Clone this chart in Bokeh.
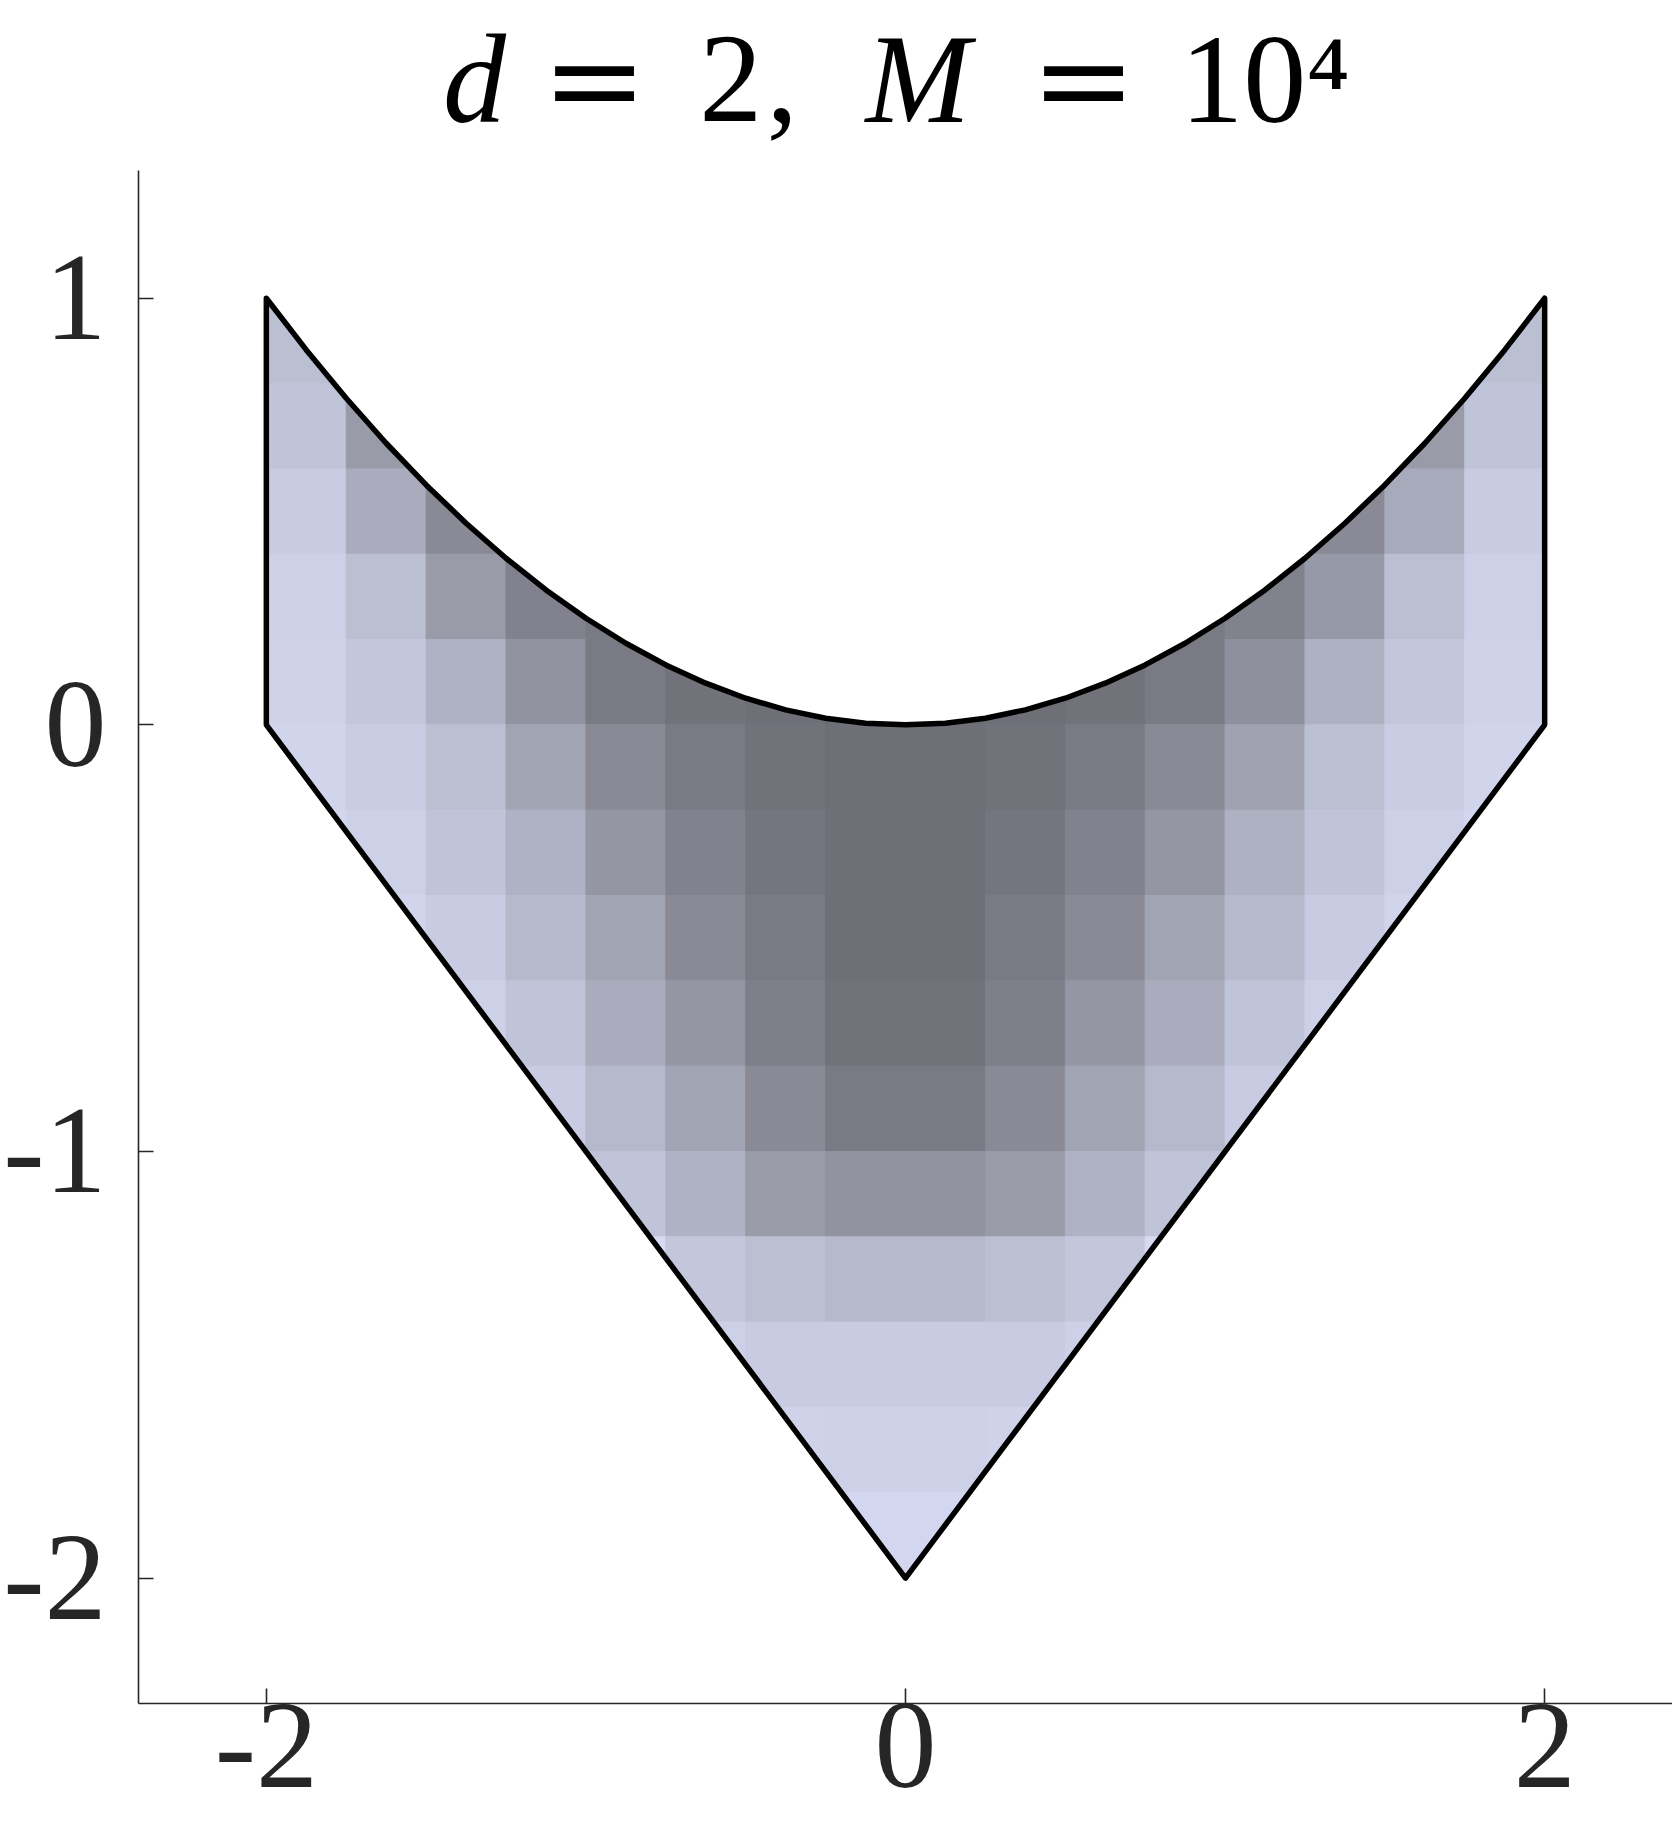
import math
from bokeh.plotting import figure
from bokeh.models import Label, FixedTicker
from bokeh.embed import file_html
from bokeh.resources import INLINE

# ---------------- data ----------------
x_ticks = [-2, 0, 2]
y_ticks = [-2, -1, 0, 1]
x_tick_labels = {-2: "-2", 0: "0", 2: "2"}
y_tick_labels = {-2: "-2", -1: "-1", 0: "0", 1: "1"}

# upper boundary (curved edge) of the region
upper_x = [-2.0, -1.875, -1.75, -1.625, -1.5, -1.375, -1.25, -1.125, -1.0,
           -0.875, -0.75, -0.625, -0.5, -0.375, -0.25, -0.125, 0.0,
           0.125, 0.25, 0.375, 0.5, 0.625, 0.75, 0.875, 1.0,
           1.125, 1.25, 1.375, 1.5, 1.625, 1.75, 1.875, 2.0]
upper_y = [1.0, 0.8789, 0.7656, 0.6602, 0.5625, 0.4727, 0.3906, 0.3164, 0.25,
           0.1914, 0.1406, 0.0977, 0.0625, 0.0352, 0.0156, 0.0039, 0.0,
           0.0039, 0.0156, 0.0352, 0.0625, 0.0977, 0.1406, 0.1914, 0.25,
           0.3164, 0.3906, 0.4727, 0.5625, 0.6602, 0.7656, 0.8789, 1.0]
# lower boundary (right side down to the tip and back up the left side)
lower_x = [2.0, 2.0, 0.0, -2.0]
lower_y = [1.0, 0.0, -2.0, 0.0]

# estimated number of sample points per cell (read from the picture's density)
cell_x = [-1.875, -1.625, -1.375, -1.125, -0.875, -0.625, -0.375, -0.125,
          0.125, 0.375, 0.625, 0.875, 1.125, 1.375, 1.625, 1.875]
cell_y = [0.9, 0.7, 0.5, 0.3, 0.1, -0.1, -0.3, -0.5, -0.7, -0.9,
          -1.1, -1.3, -1.5, -1.7, -1.9]
counts = [
    [39, 0, 0, 0, 0, 0, 0, 0, 0, 0, 0, 0, 0, 0, 0, 39],
    [31, 105, 0, 0, 0, 0, 0, 0, 0, 0, 0, 0, 0, 0, 105, 31],
    [20, 70, 145, 0, 0, 0, 0, 0, 0, 0, 0, 0, 0, 145, 75, 20],
    [12, 39, 105, 168, 194, 0, 0, 0, 0, 0, 0, 194, 170, 110, 39, 12],
    [10, 26, 60, 124, 194, 223, 235, 242, 242, 235, 223, 194, 130, 62, 26, 10],
    [7, 18, 39, 87, 145, 194, 223, 235, 235, 223, 194, 145, 90, 39, 18, 7],
    [5, 12, 31, 60, 116, 168, 211, 235, 235, 211, 168, 116, 62, 31, 12, 5],
    [0, 7, 20, 48, 87, 145, 194, 235, 235, 194, 145, 87, 48, 20, 7, 0],
    [0, 0, 12, 31, 70, 116, 178, 223, 223, 178, 116, 70, 31, 12, 0, 0],
    [0, 0, 0, 20, 48, 87, 145, 194, 194, 145, 87, 48, 20, 0, 0, 0],
    [0, 0, 0, 0, 31, 60, 105, 124, 124, 105, 60, 31, 0, 0, 0, 0],
    [0, 0, 0, 0, 0, 26, 39, 48, 48, 39, 26, 0, 0, 0, 0, 0],
    [0, 0, 0, 0, 0, 12, 20, 20, 20, 20, 12, 0, 0, 0, 0, 0],
    [0, 0, 0, 0, 0, 0, 10, 12, 12, 10, 0, 0, 0, 0, 0, 0],
    [0, 0, 0, 0, 0, 0, 0, 5, 5, 0, 0, 0, 0, 0, 0, 0],
]

# ---------------- styling ----------------
FILL = (214, 218, 242)
DOT = (64, 64, 64)
AXIS_COLOR = "#262626"
FONT = "Liberation Serif"
TICK_FONT_SIZE = "124px"
CELL_W, CELL_H = 0.25, 0.2
PX_X, PX_Y = 320.0, 426.67          # pixels per data unit
DOT_AREA = math.pi * 3.3 ** 2        # marker area in px^2
CELL_AREA = CELL_W * PX_X * CELL_H * PX_Y

p = figure(width=1672, height=1847, x_range=(-2.4, 2.4), y_range=(-2.294, 1.698),
           output_backend="svg", toolbar_location=None,
           min_border_left=136, min_border_right=0, min_border_top=0,
           min_border_bottom=144)
p.grid.visible = False
p.outline_line_color = None
p.background_fill_color = "white"
p.border_fill_color = "white"

# region fill
p.patch(upper_x + lower_x, upper_y + lower_y, fill_color="#%02x%02x%02x" % FILL,
        line_color=None)

# density of the sample points per cell
lefts, rights, tops, bottoms, colors = [], [], [], [], []
for j, cy in enumerate(cell_y):
    for i, cx in enumerate(cell_x):
        n = counts[j][i]
        cov = 1.0 - math.exp(-n * DOT_AREA / CELL_AREA)
        rgb = tuple(int(round(cov * d + (1 - cov) * f)) for d, f in zip(DOT, FILL))
        lefts.append(cx - CELL_W / 2)
        rights.append(cx + CELL_W / 2)
        tops.append(cy + CELL_H / 2)
        bottoms.append(cy - CELL_H / 2)
        colors.append("#%02x%02x%02x" % rgb)
p.quad(left=lefts, right=rights, top=tops, bottom=bottoms, fill_color=colors,
       line_color=colors, line_width=1)

# keep the shading inside the region (white masks outside it)
p.patch(upper_x + [2.05, 2.05, -2.05, -2.05], upper_y + [1.0, 1.06, 1.06, 1.0],
        fill_color="white", line_color=None)
p.patch([-2.06, -2.0, 0.0, 0.0, -2.06], [0.0, 0.0, -2.0, -2.06, -2.06],
        fill_color="white", line_color=None)
p.patch([2.06, 2.0, 0.0, 0.0, 2.06], [0.0, 0.0, -2.0, -2.06, -2.06],
        fill_color="white", line_color=None)

# region outline
p.patch(upper_x + lower_x, upper_y + lower_y, fill_alpha=0, line_color="black",
        line_width=5.5, line_join="round")

# axes
for ax, ticks, labels in ((p.xaxis, x_ticks, x_tick_labels), (p.yaxis, y_ticks, y_tick_labels)):
    ax.ticker = FixedTicker(ticks=ticks)
    ax.major_label_overrides = labels
    ax.axis_line_color = AXIS_COLOR
    ax.axis_line_width = 1.6
    ax.major_tick_line_color = AXIS_COLOR
    ax.major_tick_line_width = 1.6
    ax.major_tick_in = 15
    ax.major_tick_out = 0
    ax.minor_tick_line_color = None
    ax.major_label_text_font = FONT
    ax.major_label_text_font_size = TICK_FONT_SIZE
    ax.major_label_text_color = AXIS_COLOR
p.yaxis.bounds = (-2.294, 1.3)
p.xaxis.major_label_standoff = 1
p.yaxis.major_label_standoff = 32

# title "d = 2, M = 10^4" built from pieces on one baseline
TITLE_Y = 1.513
title_pieces = [
    ("d", -1.447, "italic", FONT),
    ("=", -1.138, "normal", "DejaVu Serif"),
    ("2", -0.645, "normal", FONT),
    (",", -0.435, "normal", FONT),
    ("M", -0.125, "italic", FONT),
    ("=", 0.392, "normal", "DejaVu Serif"),
    ("10\u2074", 0.86, "normal", FONT),
]
for txt, tx, style, font in title_pieces:
    p.add_layout(Label(x=tx, y=TITLE_Y, text=txt, text_font=font, text_font_style=style,
                       text_font_size="126px", text_color="black", text_align="left",
                       text_baseline="alphabetic"))

open("out.html", "w").write(file_html(p, INLINE))
